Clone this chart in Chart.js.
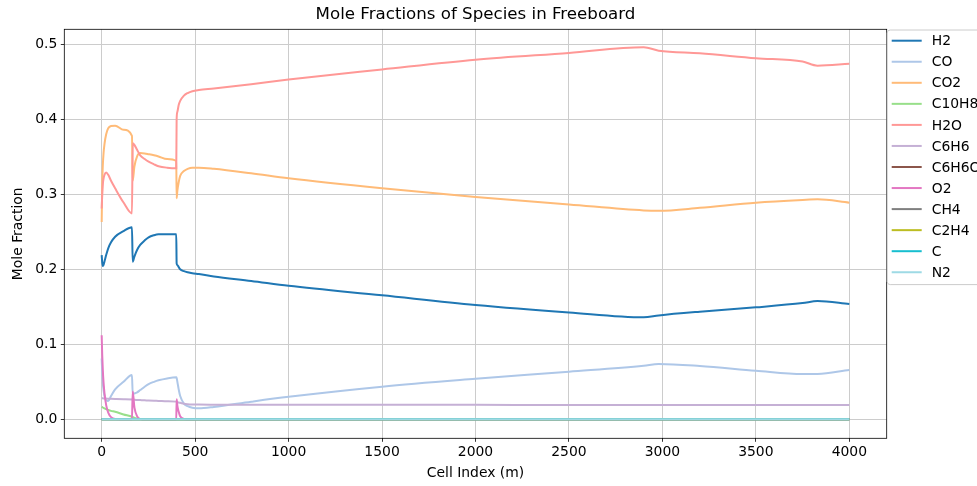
<!DOCTYPE html>
<html>
<head>
<meta charset="utf-8">
<title>Mole Fractions of Species in Freeboard</title>
<script src="https://cdn.jsdelivr.net/npm/chart.js@4/dist/chart.umd.min.js"></script>
<style>
  html, body { margin: 0; padding: 0; background: #ffffff; }
  canvas { display: block; }
</style>
</head>
<body>
<canvas id="chart" width="977" height="486"></canvas>
<script>
// Cell positions (m) at which the mole fractions are sampled
const cells = [0, 3, 6, 10, 15, 24, 35, 50, 72, 117,
  162, 166, 175, 190, 206, 230, 251, 280, 304, 350,
  399, 401, 405, 412, 420, 440, 460, 485, 520, 600,
  800, 1000, 1500, 2000, 2500, 2900, 2980, 3200, 3500, 3750,
  3830, 4000];

const H2 = [0.219, 0.209, 0.2045, 0.206, 0.2105, 0.219, 0.228, 0.236, 0.2435, 0.251,
  0.256, 0.210, 0.217, 0.226, 0.2325, 0.2385, 0.2427, 0.2455, 0.2467, 0.2468,
  0.2467, 0.208, 0.2055, 0.203, 0.200, 0.1975, 0.196, 0.1947, 0.1937, 0.1905,
  0.1845, 0.178, 0.1653, 0.1525, 0.1425, 0.136, 0.1385, 0.1435, 0.1493, 0.155,
  0.1577, 0.1537];

const CO = [0.081, 0.062, 0.049, 0.039, 0.031, 0.026, 0.0245, 0.031, 0.040, 0.050,
  0.059, 0.034, 0.0345, 0.036, 0.039, 0.0435, 0.047, 0.050, 0.052, 0.0545,
  0.056, 0.055, 0.050, 0.040, 0.031, 0.021, 0.0175, 0.0155, 0.0147, 0.0165,
  0.0235, 0.030, 0.0435, 0.054, 0.0635, 0.0715, 0.0738, 0.0711, 0.0648, 0.0603,
  0.0605, 0.0657];

const CO2 = [0.263, 0.315, 0.338, 0.355, 0.367, 0.380, 0.388, 0.391, 0.3915, 0.386,
  0.378, 0.318, 0.337, 0.351, 0.355, 0.3545, 0.3535, 0.352, 0.3505, 0.347,
  0.3444, 0.2947, 0.305, 0.316, 0.3245, 0.331, 0.334, 0.3355, 0.3355, 0.334,
  0.328, 0.3213, 0.308, 0.2965, 0.2865, 0.2785, 0.278, 0.282, 0.2889, 0.2925,
  0.2933, 0.2889];

const C10H8 = [0.0168, 0.0163, 0.0158, 0.0152, 0.0146, 0.0136, 0.0125, 0.0113, 0.0101, 0.0065,
  0.0035, 0.003, 0.002, 0.001, 0.0003, 0, 0, 0, 0, 0,
  0, 0, 0, 0, 0, 0, 0, 0, 0, 0,
  0, 0, 0, 0, 0, 0, 0, 0, 0, 0,
  0, 0];

const H2O = [0.281, 0.300, 0.313, 0.321, 0.326, 0.329, 0.326, 0.318, 0.308, 0.289,
  0.2745, 0.368, 0.366, 0.359, 0.352, 0.347, 0.3435, 0.340, 0.3375, 0.3355,
  0.3347, 0.400, 0.410, 0.419, 0.4245, 0.4315, 0.435, 0.4375, 0.439, 0.441,
  0.4467, 0.453, 0.4665, 0.4795, 0.4885, 0.496, 0.4915, 0.488, 0.4815, 0.477,
  0.4715, 0.474];

const C6H6 = [0.028, 0.028, 0.028, 0.0279, 0.0278, 0.0277, 0.0275, 0.0273, 0.0271, 0.0268,
  0.0265, 0.0262, 0.026, 0.0258, 0.0256, 0.0253, 0.025, 0.0247, 0.0245, 0.024,
  0.0236, 0.0232, 0.0228, 0.0224, 0.022, 0.0208, 0.0202, 0.0198, 0.0196, 0.0195,
  0.0194, 0.0194, 0.0193, 0.0193, 0.0192, 0.0192, 0.0192, 0.0191, 0.0191, 0.0191,
  0.0191, 0.0191];

const C6H6O = [0, 0, 0, 0, 0, 0, 0, 0, 0, 0, 0, 0, 0, 0, 0, 0, 0, 0, 0, 0, 0,
  0, 0, 0, 0, 0, 0, 0, 0, 0, 0, 0, 0, 0, 0, 0, 0, 0, 0, 0, 0, 0];

const O2 = [0.112, 0.085, 0.066, 0.049, 0.035, 0.019, 0.009, 0.003, 0.0005, 0,
  0, 0.037, 0.016, 0.004, 0.0005, 0, 0, 0, 0, 0,
  0, 0.0267, 0.018, 0.010, 0.004, 0.0005, 0, 0, 0, 0,
  0, 0, 0, 0, 0, 0, 0, 0, 0, 0,
  0, 0];

const CH4 = [0, 0, 0, 0, 0, 0, 0, 0, 0, 0, 0, 0, 0, 0, 0, 0, 0, 0, 0, 0, 0,
  0, 0, 0, 0, 0, 0, 0, 0, 0, 0, 0, 0, 0, 0, 0, 0, 0, 0, 0, 0, 0];
const C2H4 = [0, 0, 0, 0, 0, 0, 0, 0, 0, 0, 0, 0, 0, 0, 0, 0, 0, 0, 0, 0, 0,
  0, 0, 0, 0, 0, 0, 0, 0, 0, 0, 0, 0, 0, 0, 0, 0, 0, 0, 0, 0, 0];
const C = [0, 0, 0, 0, 0, 0, 0, 0, 0, 0, 0, 0, 0, 0, 0, 0, 0, 0, 0, 0, 0,
  0, 0, 0, 0, 0, 0, 0, 0, 0, 0, 0, 0, 0, 0, 0, 0, 0, 0, 0, 0, 0];
const N2 = [0, 0, 0, 0, 0, 0, 0, 0, 0, 0, 0, 0, 0, 0, 0, 0, 0, 0, 0, 0, 0,
  0, 0, 0, 0, 0, 0, 0, 0, 0, 0, 0, 0, 0, 0, 0, 0, 0, 0, 0, 0, 0];

const speciesNames = ['H2', 'CO', 'CO2', 'C10H8', 'H2O', 'C6H6', 'C6H6O', 'O2', 'CH4', 'C2H4', 'C', 'N2'];
const speciesValues = [H2, CO, CO2, C10H8, H2O, C6H6, C6H6O, O2, CH4, C2H4, C, N2];
const speciesColors = ['#1f77b4', '#aec7e8', '#ffbb78', '#98df8a', '#ff9896', '#c5b0d5',
  '#8c564b', '#e377c2', '#7f7f7f', '#bcbd22', '#17becf', '#9edae5'];

const xTicks = [0, 500, 1000, 1500, 2000, 2500, 3000, 3500, 4000];
const yTicks = [0.0, 0.1, 0.2, 0.3, 0.4, 0.5];

const FONT = 'DejaVu Sans';

const datasets = speciesNames.map((name, i) => ({
  label: name,
  data: cells.map((c, k) => ({ x: c, y: speciesValues[i][k] })),
  borderColor: speciesColors[i],
  backgroundColor: speciesColors[i],
  borderWidth: 2,
  pointRadius: 0,
  fill: false,
  cubicInterpolationMode: 'monotone',
  order: -i   // later species are painted on top
}));

// Frame around the plotting area
const framePlugin = {
  id: 'frame',
  afterDatasetsDraw(chart) {
    const { ctx, chartArea: a } = chart;
    ctx.save();
    ctx.strokeStyle = '#000000';
    ctx.lineWidth = 0.8;
    ctx.strokeRect(a.left, a.top, a.right - a.left, a.bottom - a.top);
    ctx.restore();
  }
};

// Title centred over the plotting area
const titlePlugin = {
  id: 'axesTitle',
  afterDraw(chart) {
    const { ctx, chartArea: a } = chart;
    ctx.save();
    ctx.fillStyle = '#000000';
    ctx.font = '16.67px "' + FONT + '"';
    ctx.textAlign = 'center';
    ctx.textBaseline = 'middle';
    ctx.fillText('Mole Fractions of Species in Freeboard', (a.left + a.right) / 2, 15);
    ctx.restore();
  }
};

// Legend box anchored at the upper right corner of the plotting area
const legendPlugin = {
  id: 'sideLegend',
  afterDraw(chart) {
    const { ctx, chartArea: a } = chart;
    const x0 = a.right + 0.5, y0 = 30, w = 110, rowH = 21.05;
    const h = rowH * chart.data.datasets.length + 2;
    ctx.save();
    ctx.beginPath();
    ctx.roundRect(x0, y0, w, h, 3);
    ctx.fillStyle = 'rgba(255,255,255,0.8)';
    ctx.fill();
    ctx.strokeStyle = '#cccccc';
    ctx.lineWidth = 1;
    ctx.stroke();
    ctx.font = '13.9px "' + FONT + '"';
    ctx.textBaseline = 'middle';
    ctx.textAlign = 'left';
    chart.data.datasets.forEach((ds, i) => {
      const y = 40.7 + i * rowH;
      ctx.beginPath();
      ctx.moveTo(x0 + 4.5, y);
      ctx.lineTo(x0 + 34.5, y);
      ctx.strokeStyle = ds.borderColor;
      ctx.lineWidth = 2;
      ctx.stroke();
      ctx.fillStyle = '#000000';
      ctx.fillText(ds.label, x0 + 44.5, y + 1);
    });
    ctx.restore();
  }
};

new Chart(document.getElementById('chart'), {
  type: 'line',
  data: { datasets },
  plugins: [framePlugin, titlePlugin, legendPlugin],
  options: {
    responsive: false,
    animation: false,
    devicePixelRatio: 1,
    layout: { padding: { top: 29.3, right: 90.3, left: 0, bottom: 0 } },
    plugins: {
      legend: { display: false },
      title: { display: false },
      tooltip: { enabled: false }
    },
    scales: {
      x: {
        type: 'linear',
        min: -200,
        max: 4200,
        afterBuildTicks(scale) { scale.ticks = xTicks.map(v => ({ value: v })); },
        afterFit(scale) { scale.height = 47.7; },
        border: { display: false },
        grid: {
          color: '#cccccc',
          lineWidth: 1,
          drawTicks: true,
          tickLength: 3.5,
          tickColor: '#000000',
          tickWidth: 0.8
        },
        ticks: {
          color: '#000000',
          padding: 2,
          maxRotation: 0,
          autoSkip: false,
          font: { family: FONT, size: 13.9 },
          callback: (v) => String(v)
        },
        title: {
          display: true,
          text: 'Cell Index (m)',
          color: '#000000',
          font: { family: FONT, size: 13.9, lineHeight: 1.2 },
          padding: { top: 0, bottom: 4 }
        }
      },
      y: {
        type: 'linear',
        min: -0.0253,
        max: 0.52,
        afterBuildTicks(scale) { scale.ticks = yTicks.map(v => ({ value: v })); },
        afterFit(scale) { scale.width = 64.3; },
        border: { display: false },
        grid: {
          color: '#cccccc',
          lineWidth: 1,
          drawTicks: true,
          tickLength: 3.5,
          tickColor: '#000000',
          tickWidth: 0.8
        },
        ticks: {
          color: '#000000',
          padding: 3.5,
          autoSkip: false,
          font: { family: FONT, size: 13.9 },
          callback: (v) => Number(v).toFixed(1)
        },
        title: {
          display: true,
          text: 'Mole Fraction',
          color: '#000000',
          font: { family: FONT, size: 13.9, lineHeight: 1.2 },
          padding: { top: 10, bottom: 0 }
        }
      }
    }
  }
});
</script>
</body>
</html>
